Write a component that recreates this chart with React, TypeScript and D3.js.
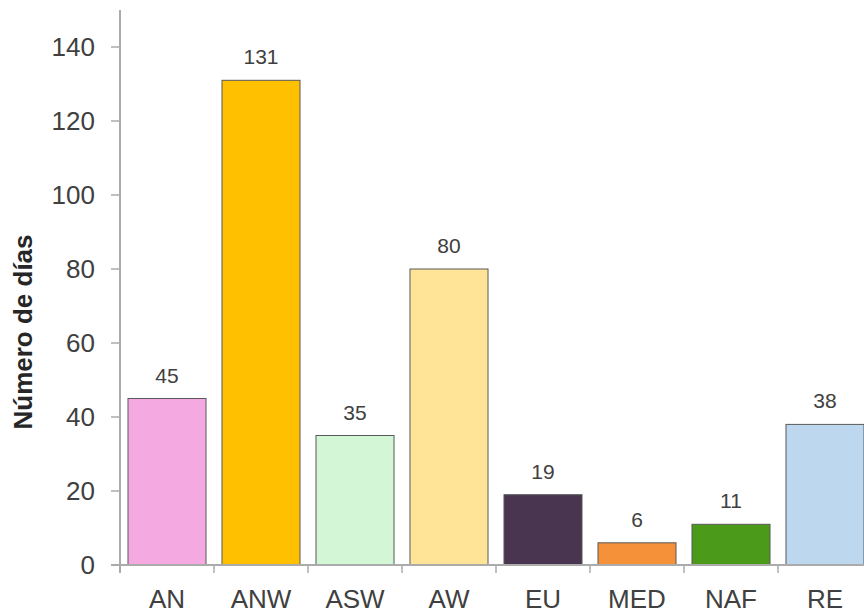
import { useEffect, useRef } from "react"
import * as d3 from "d3"

// Days per air-mass origin
const categories = ["AN", "ANW", "ASW", "AW", "EU", "MED", "NAF", "RE"]
const values = [45, 131, 35, 80, 19, 6, 11, 38]
const colors = ["#f5a9e1", "#ffc000", "#d3f6d7", "#ffe397", "#4a3550", "#f59139", "#4b9a19", "#bdd7ee"]
const yTicks = [0, 20, 40, 60, 80, 100, 120, 140]

export default function App() {
  const svgRef = useRef<SVGSVGElement>(null)

  useEffect(() => {
    if (!svgRef.current) return

    const width = 864
    const height = 615
    const axisX = 120
    const zeroY = 565

    d3.select(svgRef.current).selectAll("*").remove()

    const svg = d3
      .select(svgRef.current)
      .attr("width", width)
      .attr("height", height)
      .style("font-family", "'Liberation Sans', Arial, sans-serif")

    const x = d3
      .scaleBand()
      .domain(categories)
      .range([axisX, axisX + 94 * categories.length])
      .paddingInner(0.17)
      .paddingOuter(0.085)

    const y = d3.scaleLinear().domain([0, 150]).range([zeroY, 10])

    const axisColor = "#ababab"
    const textColor = "#404040"

    // bars
    svg
      .selectAll("rect.bar")
      .data(categories)
      .join("rect")
      .attr("class", "bar")
      .attr("x", (d) => x(d) || 0)
      .attr("y", (d, i) => y(values[i]))
      .attr("width", x.bandwidth())
      .attr("height", (d, i) => zeroY - y(values[i]))
      .style("fill", (d, i) => colors[i])
      .style("stroke", "#595959")
      .style("stroke-width", 1)

    // value labels
    svg
      .selectAll("text.value")
      .data(categories)
      .join("text")
      .attr("class", "value")
      .attr("x", (d) => (x(d) || 0) + x.bandwidth() / 2)
      .attr("y", (d, i) => y(values[i]) - 16)
      .attr("text-anchor", "middle")
      .style("font-size", "21px")
      .style("fill", textColor)
      .text((d, i) => values[i])

    // y axis line
    svg
      .append("line")
      .attr("x1", axisX)
      .attr("x2", axisX)
      .attr("y1", y(150))
      .attr("y2", zeroY + 8)
      .style("stroke", axisColor)
      .style("stroke-width", 2)

    // y ticks
    svg
      .selectAll("line.ytick")
      .data(yTicks)
      .join("line")
      .attr("class", "ytick")
      .attr("x1", axisX - 9)
      .attr("x2", axisX)
      .attr("y1", (d) => y(d))
      .attr("y2", (d) => y(d))
      .style("stroke", axisColor)
      .style("stroke-width", 1.5)

    svg
      .selectAll("text.ylabel")
      .data(yTicks)
      .join("text")
      .attr("class", "ylabel")
      .attr("x", axisX - 25)
      .attr("y", (d) => y(d))
      .attr("dy", "0.36em")
      .attr("text-anchor", "end")
      .style("font-size", "26px")
      .style("fill", textColor)
      .text((d) => d)

    // x axis line
    svg
      .append("line")
      .attr("x1", axisX - 9)
      .attr("x2", width)
      .attr("y1", zeroY)
      .attr("y2", zeroY)
      .style("stroke", axisColor)
      .style("stroke-width", 2)

    // x ticks at band boundaries
    svg
      .selectAll("line.xtick")
      .data(categories)
      .join("line")
      .attr("class", "xtick")
      .attr("x1", (d) => (x(d) || 0) - (x.step() * x.paddingInner()) / 2)
      .attr("x2", (d) => (x(d) || 0) - (x.step() * x.paddingInner()) / 2)
      .attr("y1", zeroY)
      .attr("y2", zeroY + 8)
      .style("stroke", axisColor)
      .style("stroke-width", 1.5)

    svg
      .selectAll("text.xlabel")
      .data(categories)
      .join("text")
      .attr("class", "xlabel")
      .attr("x", (d) => (x(d) || 0) + x.bandwidth() / 2)
      .attr("y", 608)
      .attr("text-anchor", "middle")
      .style("font-size", "26px")
      .style("fill", textColor)
      .text((d) => d)

    // y axis title
    svg
      .append("text")
      .attr("transform", `translate(32, 332) rotate(-90)`)
      .attr("text-anchor", "middle")
      .style("font-size", "26px")
      .style("font-weight", "bold")
      .style("fill", "#262626")
      .text("Número de días")
  }, [])

  return (
    <div style={{ position: "absolute", left: 0, top: 0, background: "#fff" }}>
      <svg ref={svgRef} style={{ display: "block" }}></svg>
    </div>
  )
}
